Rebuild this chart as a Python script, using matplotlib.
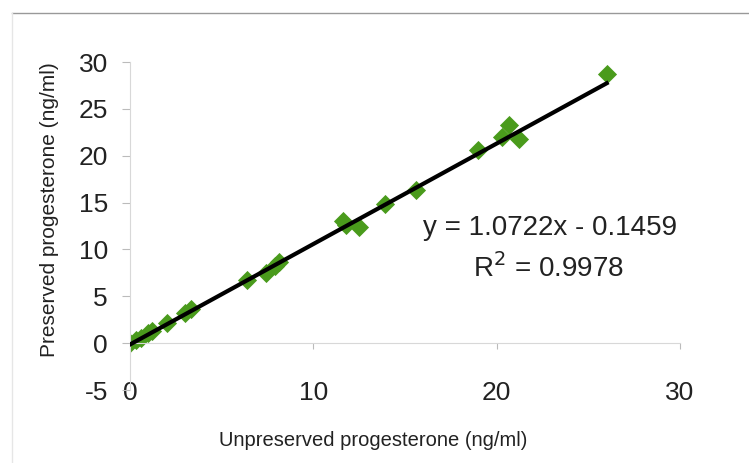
import matplotlib.pyplot as plt
import numpy as np
from matplotlib.lines import Line2D

plt.rcParams['font.family'] = ['Liberation Sans', 'DejaVu Sans']
plt.rcParams['axes.unicode_minus'] = False

# readings (ng/ml)
unpreserved = [0.0, 0.3, 0.6, 1.0, 1.2, 2.0, 3.0, 3.3, 6.4, 7.4, 7.9, 8.1,
               11.6, 11.8, 12.5, 13.9, 15.6, 19.0, 20.3, 20.7, 21.2, 26.0]
preserved = [0.0, 0.3, 0.5, 1.1, 1.3, 2.2, 3.2, 3.6, 6.7, 7.5, 8.2, 8.7,
             13.0, 12.6, 12.4, 14.8, 16.3, 20.6, 22.0, 23.3, 21.8, 28.7]
slope = 1.0722
intercept = -0.1459
r2 = 0.9978

fig = plt.figure(figsize=(7.49, 4.63), dpi=100)
ax = fig.add_axes([130/749, 1-390/463, 550/749, 328/463])

ax.scatter(unpreserved, preserved, marker='D', s=95, color='#4a9b1c', zorder=2, linewidths=0)
xs = np.array([min(unpreserved), max(unpreserved)])
ax.plot(xs, slope*xs + intercept, color='black', lw=3, zorder=3)

ax.set_xlim(0, 30)
ax.set_ylim(-5, 30)
ax.set_xticks([0, 10, 20, 30])
ax.set_yticks(range(-5, 31, 5))

for s in ['top', 'right']:
    ax.spines[s].set_visible(False)
ax.spines['bottom'].set_position(('data', 0))
ax.spines['bottom'].set_color('#d8d8d8')
ax.spines['left'].set_color('#d8d8d8')
ax.tick_params(axis='both', colors='#bbbbbb', labelcolor='#222222', labelsize=19)
ax.tick_params(axis='x', length=4, pad=23)
ax.tick_params(axis='y', length=6, pad=10)

ax.text(0.764, 0.494, 'y = 1.0722x - 0.1459', transform=ax.transAxes,
        ha='center', va='center', fontsize=20, color='#222222')
ax.text(0.76, 0.372, 'R$^2$ = %.4f' % r2, transform=ax.transAxes,
        ha='center', va='center', fontsize=20, color='#222222')

fig.text(50/749, 1-210/463, 'Preserved progesterone (ng/ml)', rotation=90,
         ha='center', va='center', fontsize=15, color='#222222')
fig.text(373/749, 1-440/463, 'Unpreserved progesterone (ng/ml)',
         ha='center', va='center', fontsize=14.5, color='#222222')

# chart border (top and left edges visible)
fig.add_artist(Line2D([12/749, 1], [1-13/463, 1-13/463], color='#999999', lw=1))
fig.add_artist(Line2D([12/749, 12/749], [0, 1-13/463], color='#e6e6e6', lw=1))

fig.savefig('out.png', dpi=100)
